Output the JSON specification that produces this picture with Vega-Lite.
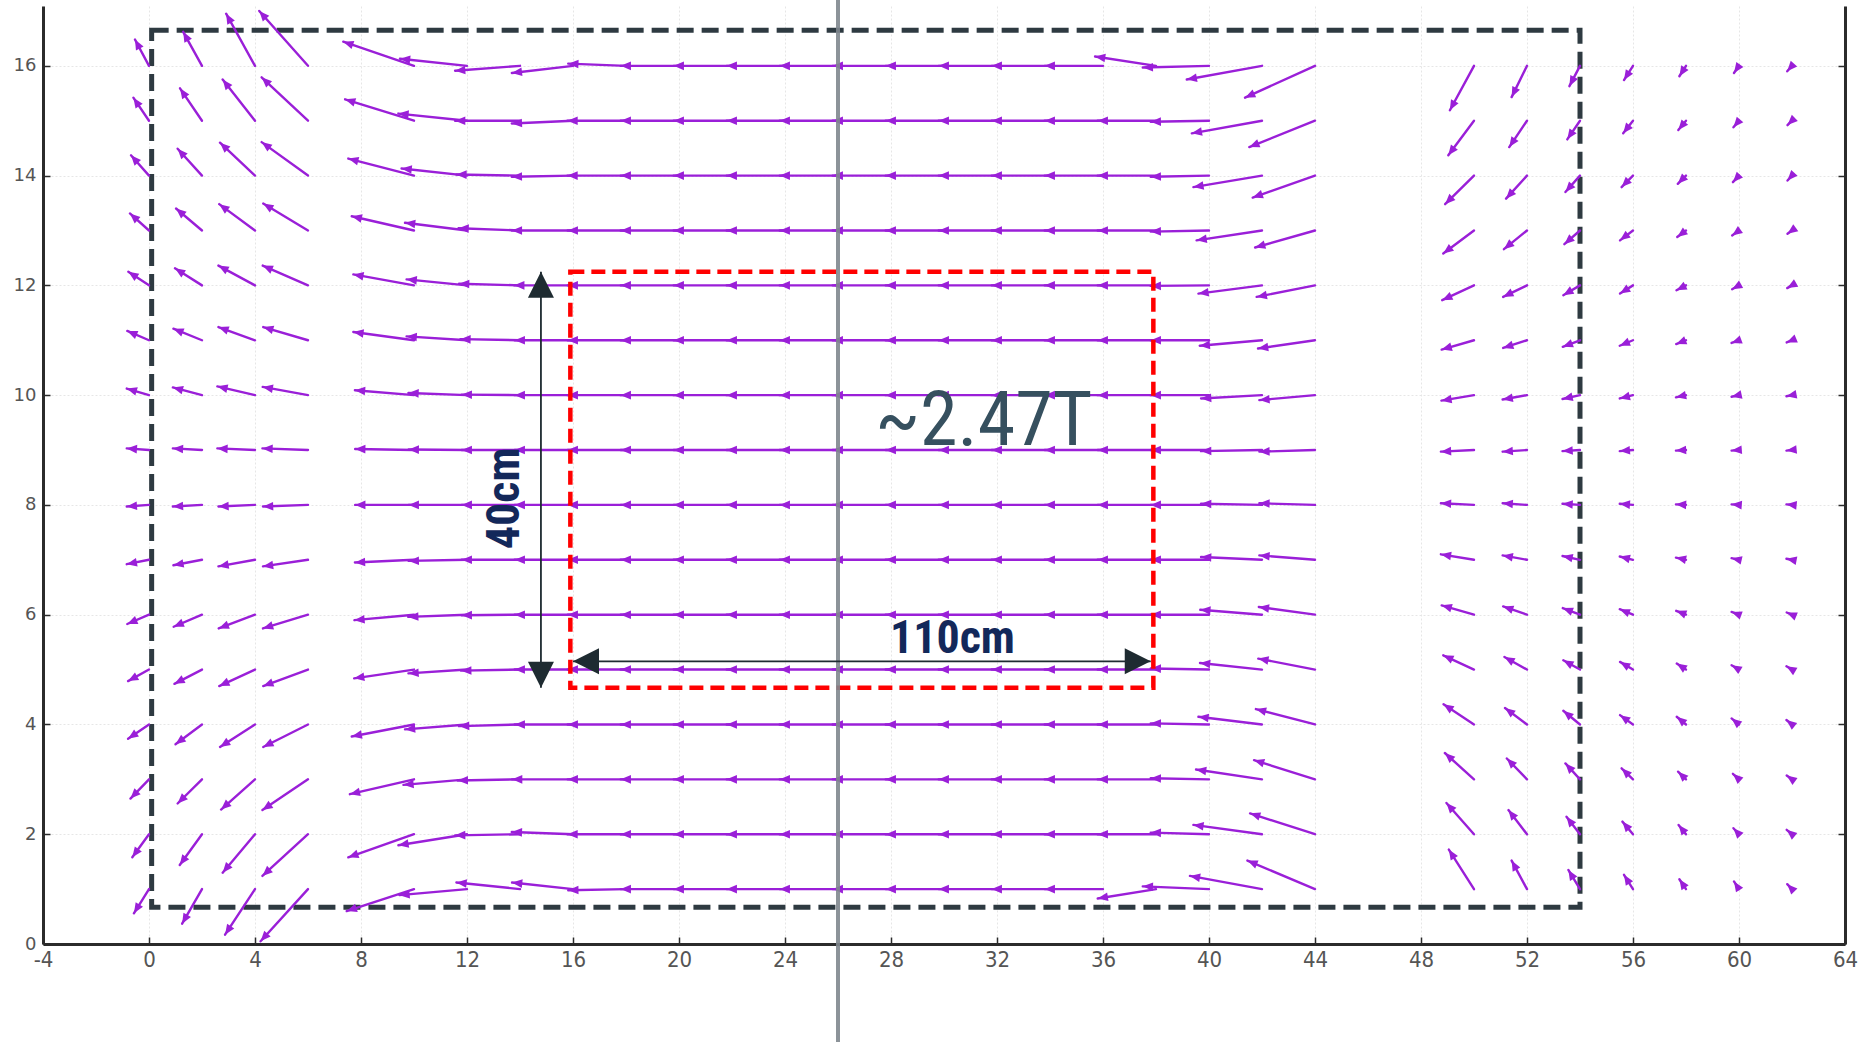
{
"$schema": "https://vega.github.io/schema/vega-lite/v6.json",
"width": 1802, "height": 938,
"autosize": {"type": "none"},
"padding": {"left": 43, "top": 6, "right": 23, "bottom": 98},
"background": "white",
"config": {"view": {"stroke": null}},
"datasets": {
"box": [{"x": 0.1, "x2": 54, "y": 0.67, "y2": 16.65}],
"red": [{"x": 15.9, "x2": 37.9, "y": 4.67, "y2": 12.25}],
"gline": [{"x": 26, "y": -1.8, "y2": 17.3}],
"dims": [{"x": 14.79, "x2": 14.79, "y": 4.67, "y2": 12.25}, {"x": 16.0, "x2": 37.8, "y": 5.15, "y2": 5.15}],
"dimheads": [{"x": 14.79, "y": 12.25, "a": 0}, {"x": 14.79, "y": 4.67, "a": 180}, {"x": 16.0, "y": 5.15, "a": 270}, {"x": 37.8, "y": 5.15, "a": 90}],
"t1": [{"label": "~2.47T", "x": 31.5, "y": 9.1}],
"t2": [{"label": "110cm", "x": 30.32, "y": 5.3}],
"t3": [{"label": "40cm", "x": 13.98, "y": 8.12}],
"q": [
{"x":0,"y":16,"u":-0.53,"v":0.48},{"x":2,"y":16,"u":-0.71,"v":0.62},{"x":4,"y":16,"u":-1.09,"v":0.95},{"x":6,"y":16,"u":-1.84,"v":1.0},
{"x":10,"y":16,"u":-2.67,"v":0.44},{"x":12,"y":16,"u":-2.53,"v":0.13},{"x":14,"y":16,"u":-2.45,"v":-0.09},{"x":16,"y":16,"u":-2.31,"v":-0.13},{"x":18,"y":16,"u":-2.18,"v":0.04},{"x":20,"y":16,"u":-2.2,"v":0},{"x":22,"y":16,"u":-2.2,"v":0},{"x":24,"y":16,"u":-2.2,"v":0},{"x":26,"y":16,"u":-2.2,"v":0},{"x":28,"y":16,"u":-2.2,"v":0},{"x":30,"y":16,"u":-2.2,"v":0},{"x":32,"y":16,"u":-2.2,"v":0},{"x":34,"y":16,"u":-2.2,"v":0},{"x":36,"y":16,"u":-2.2,"v":0},{"x":38,"y":16,"u":-2.3,"v":0.17},{"x":40,"y":16,"u":-2.5,"v":-0.03},
{"x":42,"y":16,"u":-2.84,"v":-0.25},{"x":44,"y":16,"u":-2.64,"v":-0.58},
{"x":50,"y":16,"u":-0.91,"v":-0.81},{"x":52,"y":16,"u":-0.58,"v":-0.57},{"x":54,"y":16,"u":-0.4,"v":-0.37},{"x":56,"y":16,"u":-0.34,"v":-0.26},{"x":58,"y":16,"u":-0.25,"v":-0.19},{"x":60,"y":16,"u":-0.19,"v":-0.13},{"x":62,"y":16,"u":-0.18,"v":-0.1},

{"x":0,"y":15,"u":-0.59,"v":0.42},{"x":2,"y":15,"u":-0.83,"v":0.59},{"x":4,"y":15,"u":-1.22,"v":0.75},{"x":6,"y":15,"u":-1.75,"v":0.79},
{"x":10,"y":15,"u":-2.6,"v":0.39},{"x":12,"y":15,"u":-2.59,"v":0.13},{"x":14,"y":15,"u":-2.45,"v":0.0},{"x":16,"y":15,"u":-2.31,"v":-0.05},{"x":18,"y":15,"u":-2.21,"v":0},{"x":20,"y":15,"u":-2.2,"v":0},{"x":22,"y":15,"u":-2.2,"v":0},{"x":24,"y":15,"u":-2.2,"v":0},{"x":26,"y":15,"u":-2.2,"v":0},{"x":28,"y":15,"u":-2.2,"v":0},{"x":30,"y":15,"u":-2.2,"v":0},{"x":32,"y":15,"u":-2.2,"v":0},{"x":34,"y":15,"u":-2.2,"v":0},{"x":36,"y":15,"u":-2.2,"v":0},{"x":38,"y":15,"u":-2.2,"v":0},{"x":40,"y":15,"u":-2.2,"v":-0.02},
{"x":42,"y":15,"u":-2.65,"v":-0.23},{"x":44,"y":15,"u":-2.48,"v":-0.48},
{"x":50,"y":15,"u":-0.97,"v":-0.63},{"x":52,"y":15,"u":-0.67,"v":-0.48},{"x":54,"y":15,"u":-0.48,"v":-0.34},{"x":56,"y":15,"u":-0.37,"v":-0.23},{"x":58,"y":15,"u":-0.29,"v":-0.17},{"x":60,"y":15,"u":-0.21,"v":-0.12},{"x":62,"y":15,"u":-0.17,"v":-0.08},

{"x":0,"y":14,"u":-0.68,"v":0.37},{"x":2,"y":14,"u":-0.92,"v":0.49},{"x":4,"y":14,"u":-1.32,"v":0.6},{"x":6,"y":14,"u":-1.75,"v":0.61},
{"x":10,"y":14,"u":-2.48,"v":0.31},{"x":12,"y":14,"u":-2.47,"v":0.13},{"x":14,"y":14,"u":-2.4,"v":0.02},{"x":16,"y":14,"u":-2.31,"v":-0.02},{"x":18,"y":14,"u":-2.21,"v":0},{"x":20,"y":14,"u":-2.2,"v":0},{"x":22,"y":14,"u":-2.2,"v":0},{"x":24,"y":14,"u":-2.2,"v":0},{"x":26,"y":14,"u":-2.2,"v":0},{"x":28,"y":14,"u":-2.2,"v":0},{"x":30,"y":14,"u":-2.2,"v":0},{"x":32,"y":14,"u":-2.2,"v":0},{"x":34,"y":14,"u":-2.2,"v":0},{"x":36,"y":14,"u":-2.2,"v":0},{"x":38,"y":14,"u":-2.2,"v":0},{"x":40,"y":14,"u":-2.2,"v":-0.02},
{"x":42,"y":14,"u":-2.59,"v":-0.21},{"x":44,"y":14,"u":-2.35,"v":-0.4},
{"x":50,"y":14,"u":-1.09,"v":-0.52},{"x":52,"y":14,"u":-0.79,"v":-0.42},{"x":54,"y":14,"u":-0.55,"v":-0.3},{"x":56,"y":14,"u":-0.43,"v":-0.21},{"x":58,"y":14,"u":-0.31,"v":-0.15},{"x":60,"y":14,"u":-0.23,"v":-0.12},{"x":62,"y":14,"u":-0.17,"v":-0.09},

{"x":0,"y":13,"u":-0.72,"v":0.31},{"x":2,"y":13,"u":-0.98,"v":0.4},{"x":4,"y":13,"u":-1.35,"v":0.48},{"x":6,"y":13,"u":-1.69,"v":0.49},
{"x":10,"y":13,"u":-2.35,"v":0.26},{"x":12,"y":13,"u":-2.34,"v":0.14},{"x":14,"y":13,"u":-2.32,"v":0.04},{"x":16,"y":13,"u":-2.31,"v":0},{"x":18,"y":13,"u":-2.2,"v":0},{"x":20,"y":13,"u":-2.2,"v":0},{"x":22,"y":13,"u":-2.2,"v":0},{"x":24,"y":13,"u":-2.2,"v":0},{"x":26,"y":13,"u":-2.2,"v":0},{"x":28,"y":13,"u":-2.2,"v":0},{"x":30,"y":13,"u":-2.2,"v":0},{"x":32,"y":13,"u":-2.2,"v":0},{"x":34,"y":13,"u":-2.2,"v":0},{"x":36,"y":13,"u":-2.2,"v":0},{"x":38,"y":13,"u":-2.2,"v":0},{"x":40,"y":13,"u":-2.2,"v":-0.02},
{"x":42,"y":13,"u":-2.47,"v":-0.18},{"x":44,"y":13,"u":-2.26,"v":-0.31},
{"x":50,"y":13,"u":-1.16,"v":-0.42},{"x":52,"y":13,"u":-0.87,"v":-0.34},{"x":54,"y":13,"u":-0.59,"v":-0.25},{"x":56,"y":13,"u":-0.49,"v":-0.18},{"x":58,"y":13,"u":-0.33,"v":-0.12},{"x":60,"y":13,"u":-0.26,"v":-0.09},{"x":62,"y":13,"u":-0.17,"v":-0.06},

{"x":0,"y":12,"u":-0.78,"v":0.25},{"x":2,"y":12,"u":-1.02,"v":0.31},{"x":4,"y":12,"u":-1.38,"v":0.36},{"x":6,"y":12,"u":-1.71,"v":0.36},
{"x":10,"y":12,"u":-2.29,"v":0.2},{"x":12,"y":12,"u":-2.28,"v":0.11},{"x":14,"y":12,"u":-2.3,"v":0.03},{"x":16,"y":12,"u":-2.22,"v":0},{"x":18,"y":12,"u":-2.2,"v":0},{"x":20,"y":12,"u":-2.2,"v":0},{"x":22,"y":12,"u":-2.2,"v":0},{"x":24,"y":12,"u":-2.2,"v":0},{"x":26,"y":12,"u":-2.2,"v":0},{"x":28,"y":12,"u":-2.2,"v":0},{"x":30,"y":12,"u":-2.2,"v":0},{"x":32,"y":12,"u":-2.2,"v":0},{"x":34,"y":12,"u":-2.2,"v":0},{"x":36,"y":12,"u":-2.2,"v":0},{"x":38,"y":12,"u":-2.2,"v":0},{"x":40,"y":12,"u":-2.2,"v":-0.01},
{"x":42,"y":12,"u":-2.4,"v":-0.15},{"x":44,"y":12,"u":-2.2,"v":-0.21},
{"x":50,"y":12,"u":-1.2,"v":-0.27},{"x":52,"y":12,"u":-0.9,"v":-0.21},{"x":54,"y":12,"u":-0.63,"v":-0.18},{"x":56,"y":12,"u":-0.49,"v":-0.15},{"x":58,"y":12,"u":-0.36,"v":-0.09},{"x":60,"y":12,"u":-0.26,"v":-0.07},{"x":62,"y":12,"u":-0.18,"v":-0.05},

{"x":0,"y":11,"u":-0.82,"v":0.17},{"x":2,"y":11,"u":-1.08,"v":0.21},{"x":4,"y":11,"u":-1.38,"v":0.24},{"x":6,"y":11,"u":-1.69,"v":0.24},
{"x":10,"y":11,"u":-2.29,"v":0.15},{"x":12,"y":11,"u":-2.28,"v":0.07},{"x":14,"y":11,"u":-2.25,"v":0.02},{"x":16,"y":11,"u":-2.2,"v":0},{"x":18,"y":11,"u":-2.2,"v":0},{"x":20,"y":11,"u":-2.2,"v":0},{"x":22,"y":11,"u":-2.2,"v":0},{"x":24,"y":11,"u":-2.2,"v":0},{"x":26,"y":11,"u":-2.2,"v":0},{"x":28,"y":11,"u":-2.2,"v":0},{"x":30,"y":11,"u":-2.2,"v":0},{"x":32,"y":11,"u":-2.2,"v":0},{"x":34,"y":11,"u":-2.2,"v":0},{"x":36,"y":11,"u":-2.2,"v":0},{"x":38,"y":11,"u":-2.2,"v":0},{"x":40,"y":11,"u":-2.2,"v":0},
{"x":42,"y":11,"u":-2.35,"v":-0.1},{"x":44,"y":11,"u":-2.15,"v":-0.15},
{"x":50,"y":11,"u":-1.22,"v":-0.17},{"x":52,"y":11,"u":-0.9,"v":-0.14},{"x":54,"y":11,"u":-0.65,"v":-0.12},{"x":56,"y":11,"u":-0.5,"v":-0.1},{"x":58,"y":11,"u":-0.37,"v":-0.07},{"x":60,"y":11,"u":-0.28,"v":-0.05},{"x":62,"y":11,"u":-0.2,"v":-0.04},

{"x":0,"y":10,"u":-0.84,"v":0.12},{"x":2,"y":10,"u":-1.1,"v":0.14},{"x":4,"y":10,"u":-1.42,"v":0.16},{"x":6,"y":10,"u":-1.71,"v":0.15},
{"x":10,"y":10,"u":-2.23,"v":0.09},{"x":12,"y":10,"u":-2.21,"v":0.04},{"x":14,"y":10,"u":-2.2,"v":0.01},{"x":16,"y":10,"u":-2.2,"v":0},{"x":18,"y":10,"u":-2.2,"v":0},{"x":20,"y":10,"u":-2.2,"v":0},{"x":22,"y":10,"u":-2.2,"v":0},{"x":24,"y":10,"u":-2.2,"v":0},{"x":26,"y":10,"u":-2.2,"v":0},{"x":28,"y":10,"u":-2.2,"v":0},{"x":30,"y":10,"u":-2.2,"v":0},{"x":32,"y":10,"u":-2.2,"v":0},{"x":34,"y":10,"u":-2.2,"v":0},{"x":36,"y":10,"u":-2.2,"v":0},{"x":38,"y":10,"u":-2.2,"v":0},{"x":40,"y":10,"u":-2.2,"v":0},
{"x":42,"y":10,"u":-2.3,"v":-0.06},{"x":44,"y":10,"u":-2.1,"v":-0.09},
{"x":50,"y":10,"u":-1.23,"v":-0.1},{"x":52,"y":10,"u":-0.92,"v":-0.08},{"x":54,"y":10,"u":-0.66,"v":-0.07},{"x":56,"y":10,"u":-0.5,"v":-0.06},{"x":58,"y":10,"u":-0.38,"v":-0.04},{"x":60,"y":10,"u":-0.28,"v":-0.03},{"x":62,"y":10,"u":-0.21,"v":-0.02},

{"x":0,"y":9,"u":-0.84,"v":0.03},{"x":2,"y":9,"u":-1.1,"v":0.03},{"x":4,"y":9,"u":-1.42,"v":0.03},{"x":6,"y":9,"u":-1.72,"v":0.03},
{"x":10,"y":9,"u":-2.22,"v":0.02},{"x":12,"y":9,"u":-2.2,"v":0.01},{"x":14,"y":9,"u":-2.2,"v":0},{"x":16,"y":9,"u":-2.2,"v":0},{"x":18,"y":9,"u":-2.2,"v":0},{"x":20,"y":9,"u":-2.2,"v":0},{"x":22,"y":9,"u":-2.2,"v":0},{"x":24,"y":9,"u":-2.2,"v":0},{"x":26,"y":9,"u":-2.2,"v":0},{"x":28,"y":9,"u":-2.2,"v":0},{"x":30,"y":9,"u":-2.2,"v":0},{"x":32,"y":9,"u":-2.2,"v":0},{"x":34,"y":9,"u":-2.2,"v":0},{"x":36,"y":9,"u":-2.2,"v":0},{"x":38,"y":9,"u":-2.2,"v":0},{"x":40,"y":9,"u":-2.2,"v":0},
{"x":42,"y":9,"u":-2.3,"v":-0.02},{"x":44,"y":9,"u":-2.1,"v":-0.03},
{"x":50,"y":9,"u":-1.25,"v":-0.03},{"x":52,"y":9,"u":-0.92,"v":-0.03},{"x":54,"y":9,"u":-0.66,"v":-0.02},{"x":56,"y":9,"u":-0.5,"v":-0.02},{"x":58,"y":9,"u":-0.38,"v":-0.01},{"x":60,"y":9,"u":-0.28,"v":-0.01},{"x":62,"y":9,"u":-0.21,"v":-0.01},

{"x":0,"y":8,"u":-0.84,"v":-0.03},{"x":2,"y":8,"u":-1.1,"v":-0.03},{"x":4,"y":8,"u":-1.38,"v":-0.03},{"x":6,"y":8,"u":-1.7,"v":-0.03},
{"x":10,"y":8,"u":-2.22,"v":0},{"x":12,"y":8,"u":-2.2,"v":0},{"x":14,"y":8,"u":-2.2,"v":0},{"x":16,"y":8,"u":-2.2,"v":0},{"x":18,"y":8,"u":-2.2,"v":0},{"x":20,"y":8,"u":-2.2,"v":0},{"x":22,"y":8,"u":-2.2,"v":0},{"x":24,"y":8,"u":-2.2,"v":0},{"x":26,"y":8,"u":-2.2,"v":0},{"x":28,"y":8,"u":-2.2,"v":0},{"x":30,"y":8,"u":-2.2,"v":0},{"x":32,"y":8,"u":-2.2,"v":0},{"x":34,"y":8,"u":-2.2,"v":0},{"x":36,"y":8,"u":-2.2,"v":0},{"x":38,"y":8,"u":-2.2,"v":0},{"x":40,"y":8,"u":-2.2,"v":0},
{"x":42,"y":8,"u":-2.3,"v":0.02},{"x":44,"y":8,"u":-2.1,"v":0.03},
{"x":50,"y":8,"u":-1.25,"v":0.03},{"x":52,"y":8,"u":-0.92,"v":0.03},{"x":54,"y":8,"u":-0.66,"v":0.02},{"x":56,"y":8,"u":-0.5,"v":0.02},{"x":58,"y":8,"u":-0.38,"v":0.01},{"x":60,"y":8,"u":-0.28,"v":0.01},{"x":62,"y":8,"u":-0.21,"v":0.01},

{"x":0,"y":7,"u":-0.84,"v":-0.08},{"x":2,"y":7,"u":-1.08,"v":-0.1},{"x":4,"y":7,"u":-1.38,"v":-0.12},{"x":6,"y":7,"u":-1.7,"v":-0.12},
{"x":10,"y":7,"u":-2.23,"v":-0.05},{"x":12,"y":7,"u":-2.2,"v":-0.02},{"x":14,"y":7,"u":-2.2,"v":0},{"x":16,"y":7,"u":-2.2,"v":0},{"x":18,"y":7,"u":-2.2,"v":0},{"x":20,"y":7,"u":-2.2,"v":0},{"x":22,"y":7,"u":-2.2,"v":0},{"x":24,"y":7,"u":-2.2,"v":0},{"x":26,"y":7,"u":-2.2,"v":0},{"x":28,"y":7,"u":-2.2,"v":0},{"x":30,"y":7,"u":-2.2,"v":0},{"x":32,"y":7,"u":-2.2,"v":0},{"x":34,"y":7,"u":-2.2,"v":0},{"x":36,"y":7,"u":-2.2,"v":0},{"x":38,"y":7,"u":-2.2,"v":0},{"x":40,"y":7,"u":-2.2,"v":0},
{"x":42,"y":7,"u":-2.3,"v":0.05},{"x":44,"y":7,"u":-2.1,"v":0.08},
{"x":50,"y":7,"u":-1.25,"v":0.1},{"x":52,"y":7,"u":-0.92,"v":0.08},{"x":54,"y":7,"u":-0.66,"v":0.07},{"x":56,"y":7,"u":-0.5,"v":0.06},{"x":58,"y":7,"u":-0.38,"v":0.04},{"x":60,"y":7,"u":-0.28,"v":0.03},{"x":62,"y":7,"u":-0.21,"v":0.02},

{"x":0,"y":6,"u":-0.82,"v":-0.17},{"x":2,"y":6,"u":-1.07,"v":-0.22},{"x":4,"y":6,"u":-1.37,"v":-0.25},{"x":6,"y":6,"u":-1.7,"v":-0.25},
{"x":10,"y":6,"u":-2.25,"v":-0.1},{"x":12,"y":6,"u":-2.22,"v":-0.04},{"x":14,"y":6,"u":-2.2,"v":-0.01},{"x":16,"y":6,"u":-2.2,"v":0},{"x":18,"y":6,"u":-2.2,"v":0},{"x":20,"y":6,"u":-2.2,"v":0},{"x":22,"y":6,"u":-2.2,"v":0},{"x":24,"y":6,"u":-2.2,"v":0},{"x":26,"y":6,"u":-2.2,"v":0},{"x":28,"y":6,"u":-2.2,"v":0},{"x":30,"y":6,"u":-2.2,"v":0},{"x":32,"y":6,"u":-2.2,"v":0},{"x":34,"y":6,"u":-2.2,"v":0},{"x":36,"y":6,"u":-2.2,"v":0},{"x":38,"y":6,"u":-2.2,"v":0},{"x":40,"y":6,"u":-2.2,"v":0},
{"x":42,"y":6,"u":-2.33,"v":0.09},{"x":44,"y":6,"u":-2.12,"v":0.14},
{"x":50,"y":6,"u":-1.22,"v":0.17},{"x":52,"y":6,"u":-0.9,"v":0.15},{"x":54,"y":6,"u":-0.65,"v":0.12},{"x":56,"y":6,"u":-0.5,"v":0.1},{"x":58,"y":6,"u":-0.37,"v":0.07},{"x":60,"y":6,"u":-0.28,"v":0.05},{"x":62,"y":6,"u":-0.2,"v":0.04},

{"x":0,"y":5,"u":-0.79,"v":-0.21},{"x":2,"y":5,"u":-1.04,"v":-0.26},{"x":4,"y":5,"u":-1.35,"v":-0.3},{"x":6,"y":5,"u":-1.69,"v":-0.3},
{"x":10,"y":5,"u":-2.26,"v":-0.16},{"x":12,"y":5,"u":-2.21,"v":-0.07},{"x":14,"y":5,"u":-2.22,"v":-0.02},{"x":16,"y":5,"u":-2.2,"v":0},{"x":18,"y":5,"u":-2.2,"v":0},{"x":20,"y":5,"u":-2.2,"v":0},{"x":22,"y":5,"u":-2.2,"v":0},{"x":24,"y":5,"u":-2.2,"v":0},{"x":26,"y":5,"u":-2.2,"v":0},{"x":28,"y":5,"u":-2.2,"v":0},{"x":30,"y":5,"u":-2.2,"v":0},{"x":32,"y":5,"u":-2.2,"v":0},{"x":34,"y":5,"u":-2.2,"v":0},{"x":36,"y":5,"u":-2.2,"v":0},{"x":38,"y":5,"u":-2.2,"v":0},{"x":40,"y":5,"u":-2.2,"v":0.02},
{"x":42,"y":5,"u":-2.34,"v":0.12},{"x":44,"y":5,"u":-2.14,"v":0.2},
{"x":50,"y":5,"u":-1.16,"v":0.26},{"x":52,"y":5,"u":-0.85,"v":0.23},{"x":54,"y":5,"u":-0.63,"v":0.17},{"x":56,"y":5,"u":-0.49,"v":0.14},{"x":58,"y":5,"u":-0.35,"v":0.11},{"x":60,"y":5,"u":-0.28,"v":0.08},{"x":62,"y":5,"u":-0.21,"v":0.06},

{"x":0,"y":4,"u":-0.79,"v":-0.26},{"x":2,"y":4,"u":-1.0,"v":-0.36},{"x":4,"y":4,"u":-1.32,"v":-0.41},{"x":6,"y":4,"u":-1.69,"v":-0.41},
{"x":10,"y":4,"u":-2.35,"v":-0.22},{"x":12,"y":4,"u":-2.34,"v":-0.09},{"x":14,"y":4,"u":-2.3,"v":-0.03},{"x":16,"y":4,"u":-2.2,"v":0},{"x":18,"y":4,"u":-2.2,"v":0},{"x":20,"y":4,"u":-2.2,"v":0},{"x":22,"y":4,"u":-2.2,"v":0},{"x":24,"y":4,"u":-2.2,"v":0},{"x":26,"y":4,"u":-2.2,"v":0},{"x":28,"y":4,"u":-2.2,"v":0},{"x":30,"y":4,"u":-2.2,"v":0},{"x":32,"y":4,"u":-2.2,"v":0},{"x":34,"y":4,"u":-2.2,"v":0},{"x":36,"y":4,"u":-2.2,"v":0},{"x":38,"y":4,"u":-2.2,"v":0},{"x":40,"y":4,"u":-2.2,"v":0.02},
{"x":42,"y":4,"u":-2.4,"v":0.14},{"x":44,"y":4,"u":-2.23,"v":0.28},
{"x":50,"y":4,"u":-1.15,"v":0.37},{"x":52,"y":4,"u":-0.83,"v":0.3},{"x":54,"y":4,"u":-0.63,"v":0.25},{"x":56,"y":4,"u":-0.49,"v":0.17},{"x":58,"y":4,"u":-0.35,"v":0.14},{"x":60,"y":4,"u":-0.28,"v":0.11},{"x":62,"y":4,"u":-0.21,"v":0.08},

{"x":0,"y":3,"u":-0.7,"v":-0.35},{"x":2,"y":3,"u":-0.92,"v":-0.44},{"x":4,"y":3,"u":-1.28,"v":-0.55},{"x":6,"y":3,"u":-1.72,"v":-0.56},
{"x":10,"y":3,"u":-2.42,"v":-0.27},{"x":12,"y":3,"u":-2.4,"v":-0.1},{"x":14,"y":3,"u":-2.35,"v":-0.02},{"x":16,"y":3,"u":-2.3,"v":0},{"x":18,"y":3,"u":-2.2,"v":0},{"x":20,"y":3,"u":-2.2,"v":0},{"x":22,"y":3,"u":-2.2,"v":0},{"x":24,"y":3,"u":-2.2,"v":0},{"x":26,"y":3,"u":-2.2,"v":0},{"x":28,"y":3,"u":-2.2,"v":0},{"x":30,"y":3,"u":-2.2,"v":0},{"x":32,"y":3,"u":-2.2,"v":0},{"x":34,"y":3,"u":-2.2,"v":0},{"x":36,"y":3,"u":-2.2,"v":0},{"x":38,"y":3,"u":-2.2,"v":0},{"x":40,"y":3,"u":-2.2,"v":0.02},
{"x":42,"y":3,"u":-2.49,"v":0.18},{"x":44,"y":3,"u":-2.3,"v":0.35},
{"x":50,"y":3,"u":-1.1,"v":0.48},{"x":52,"y":3,"u":-0.76,"v":0.38},{"x":54,"y":3,"u":-0.55,"v":0.29},{"x":56,"y":3,"u":-0.43,"v":0.2},{"x":58,"y":3,"u":-0.3,"v":0.14},{"x":60,"y":3,"u":-0.23,"v":0.1},{"x":62,"y":3,"u":-0.2,"v":0.07},

{"x":0,"y":2,"u":-0.63,"v":-0.42},{"x":2,"y":2,"u":-0.84,"v":-0.56},{"x":4,"y":2,"u":-1.22,"v":-0.7},{"x":6,"y":2,"u":-1.72,"v":-0.76},
{"x":10,"y":2,"u":-2.48,"v":-0.42},{"x":12,"y":2,"u":-2.59,"v":-0.2},{"x":14,"y":2,"u":-2.45,"v":-0.02},{"x":16,"y":2,"u":-2.31,"v":0.04},{"x":18,"y":2,"u":-2.21,"v":0},{"x":20,"y":2,"u":-2.2,"v":0},{"x":22,"y":2,"u":-2.2,"v":0},{"x":24,"y":2,"u":-2.2,"v":0},{"x":26,"y":2,"u":-2.2,"v":0},{"x":28,"y":2,"u":-2.2,"v":0},{"x":30,"y":2,"u":-2.2,"v":0},{"x":32,"y":2,"u":-2.2,"v":0},{"x":34,"y":2,"u":-2.2,"v":0},{"x":36,"y":2,"u":-2.2,"v":0},{"x":38,"y":2,"u":-2.2,"v":0},{"x":40,"y":2,"u":-2.2,"v":0.03},
{"x":42,"y":2,"u":-2.59,"v":0.17},{"x":44,"y":2,"u":-2.45,"v":0.38},
{"x":50,"y":2,"u":-1.04,"v":0.57},{"x":52,"y":2,"u":-0.7,"v":0.44},{"x":54,"y":2,"u":-0.51,"v":0.32},{"x":56,"y":2,"u":-0.4,"v":0.23},{"x":58,"y":2,"u":-0.28,"v":0.17},{"x":60,"y":2,"u":-0.21,"v":0.11},{"x":62,"y":2,"u":-0.2,"v":0.08},

{"x":0,"y":1,"u":-0.57,"v":-0.44},{"x":2,"y":1,"u":-0.75,"v":-0.63},{"x":4,"y":1,"u":-1.13,"v":-0.83},{"x":6,"y":1,"u":-1.79,"v":-0.95},
{"x":10,"y":1,"u":-2.54,"v":-0.4},{"x":12,"y":1,"u":-2.55,"v":-0.11},{"x":14,"y":1,"u":-2.4,"v":0.12},{"x":16,"y":1,"u":-2.3,"v":0.12},{"x":18,"y":1,"u":-2.18,"v":-0.02},{"x":20,"y":1,"u":-2.2,"v":0},{"x":22,"y":1,"u":-2.2,"v":0},{"x":24,"y":1,"u":-2.2,"v":0},{"x":26,"y":1,"u":-2.2,"v":0},{"x":28,"y":1,"u":-2.2,"v":0},{"x":30,"y":1,"u":-2.2,"v":0},{"x":32,"y":1,"u":-2.2,"v":0},{"x":34,"y":1,"u":-2.2,"v":0},{"x":36,"y":1,"u":-2.2,"v":0},{"x":38,"y":1,"u":-2.2,"v":-0.17},{"x":40,"y":1,"u":-2.5,"v":0.05},
{"x":42,"y":1,"u":-2.72,"v":0.24},{"x":44,"y":1,"u":-2.55,"v":0.52},
{"x":50,"y":1,"u":-0.95,"v":0.72},{"x":52,"y":1,"u":-0.58,"v":0.52},{"x":54,"y":1,"u":-0.44,"v":0.35},{"x":56,"y":1,"u":-0.34,"v":0.26},{"x":58,"y":1,"u":-0.25,"v":0.18},{"x":60,"y":1,"u":-0.19,"v":0.14},{"x":62,"y":1,"u":-0.18,"v":0.09}
]
},
"layer": [
{
"data": {"name": "box"},
"mark": {"type": "rect", "filled": false, "stroke": "#2e3a41", "strokeWidth": 5, "strokeDash": [17, 8]},
"encoding": {
"x": {"field": "x", "type": "quantitative", "title": null, "scale": {"domain": [-4, 64], "nice": false, "zero": false},
"axis": {"title": null, "values": [-4,0,4,8,12,16,20,24,28,32,36,40,44,48,52,56,60,64], "labelExpr": "replace(datum.label, '−', '-')", "grid": true, "gridColor": "#e6e6e6", "gridDash": [2, 2], "gridWidth": 1, "domainColor": "#2b2b2b", "domainWidth": 3, "tickColor": "#2b2b2b", "tickWidth": 1.5, "tickSize": -7, "labelPadding": 12, "labelFont": "DejaVu Sans Condensed, Liberation Sans Narrow, Roboto Condensed, DejaVu Sans", "labelFontSize": 22, "labelColor": "#555555", "labelFlush": false, "labelOverlap": false}},
"x2": {"field": "x2"},
"y": {"field": "y", "type": "quantitative", "title": null, "scale": {"domain": [0, 17.09], "nice": false, "zero": false},
"axis": {"title": null, "orient": "left", "values": [0,2,4,6,8,10,12,14,16], "grid": true, "gridColor": "#e6e6e6", "gridDash": [2, 2], "gridWidth": 1, "domainColor": "#2b2b2b", "domainWidth": 3, "tickColor": "#2b2b2b", "tickWidth": 1.5, "tickSize": -7, "labelPadding": 14, "labelFont": "DejaVu Sans", "labelFontSize": 18, "labelColor": "#555555", "labelFlush": false, "labelOverlap": false}},
"y2": {"field": "y2"}
}
},
{
"data": {"name": "q"},
"transform": [
{"calculate": "datum.x + datum.u", "as": "hx"},
{"calculate": "datum.y + datum.v", "as": "hy"}
],
"mark": {"type": "rule", "color": "#9a1fd8", "strokeWidth": 2.4, "strokeCap": "round"},
"encoding": {
"x": {"field": "x", "type": "quantitative", "title": null, "axis": {"title": null}},
"y": {"field": "y", "type": "quantitative", "title": null, "axis": {"title": null, "orient": "right", "values": [0,2,4,6,8,10,12,14,16], "labels": false, "grid": false, "domainColor": "#2b2b2b", "domainWidth": 3, "tickColor": "#2b2b2b", "tickWidth": 1.5, "tickSize": -7}},
"x2": {"field": "hx"},
"y2": {"field": "hy"}
}
},
{
"data": {"name": "q"},
"transform": [
{"calculate": "datum.x + datum.u", "as": "hx"},
{"calculate": "datum.y + datum.v", "as": "hy"},
{"calculate": "atan2(datum.u * 26.5, datum.v * 54.9) * 180 / PI", "as": "ang"}
],
"mark": {"type": "point", "shape": "M0,0L0.42,1L-0.42,1Z", "filled": true, "color": "#9a1fd8", "opacity": 1, "size": 420, "strokeWidth": 0},
"encoding": {
"x": {"field": "hx", "type": "quantitative", "title": null, "axis": {"title": null}},
"y": {"field": "hy", "type": "quantitative", "title": null, "axis": null},
"angle": {"field": "ang", "type": "quantitative", "scale": null}
}
},
{
"data": {"name": "red"},
"mark": {"type": "rect", "filled": false, "stroke": "#ff0000", "strokeWidth": 4.5, "strokeDash": [14, 7]},
"encoding": {
"x": {"field": "x", "type": "quantitative", "title": null, "axis": {"title": null}}, "x2": {"field": "x2"},
"y": {"field": "y", "type": "quantitative", "title": null, "axis": null}, "y2": {"field": "y2"}
}
},
{
"data": {"name": "gline"},
"mark": {"type": "rule", "color": "#7f878e", "strokeWidth": 4, "opacity": 0.9},
"encoding": {
"x": {"field": "x", "type": "quantitative", "title": null, "axis": {"title": null}},
"y": {"field": "y", "type": "quantitative", "title": null, "axis": null}, "y2": {"field": "y2"}
}
},
{
"data": {"name": "dims"},
"mark": {"type": "rule", "color": "#1e2b31", "strokeWidth": 1.8},
"encoding": {
"x": {"field": "x", "type": "quantitative", "title": null, "axis": {"title": null}}, "x2": {"field": "x2"},
"y": {"field": "y", "type": "quantitative", "title": null, "axis": null}, "y2": {"field": "y2"}
}
},
{
"data": {"name": "dimheads"},
"mark": {"type": "point", "shape": "M0,0L0.5,1L-0.5,1Z", "filled": true, "color": "#1e2b31", "opacity": 1, "size": 2700, "strokeWidth": 0},
"encoding": {
"x": {"field": "x", "type": "quantitative", "title": null, "axis": {"title": null}},
"y": {"field": "y", "type": "quantitative", "title": null, "axis": null},
"angle": {"field": "a", "type": "quantitative", "scale": null}
}
},
{
"data": {"name": "t1"},
"mark": {"type": "text", "font": "Liberation Sans Narrow, Roboto Condensed, DejaVu Sans Condensed, Liberation Sans, sans-serif", "fontSize": 76, "color": "#36505f", "align": "center", "baseline": "alphabetic"},
"encoding": {
"x": {"field": "x", "type": "quantitative", "title": null, "axis": {"title": null}},
"y": {"field": "y", "type": "quantitative", "title": null, "axis": null},
"text": {"field": "label"}
}
},
{
"data": {"name": "t2"},
"mark": {"type": "text", "font": "Liberation Sans Narrow, Roboto Condensed, DejaVu Sans Condensed, Liberation Sans, sans-serif", "fontSize": 46, "fontWeight": "bold", "color": "#13285a", "align": "center", "baseline": "alphabetic"},
"encoding": {
"x": {"field": "x", "type": "quantitative", "title": null, "axis": {"title": null}},
"y": {"field": "y", "type": "quantitative", "title": null, "axis": null},
"text": {"field": "label"}
}
},
{
"data": {"name": "t3"},
"mark": {"type": "text", "font": "Liberation Sans Narrow, Roboto Condensed, DejaVu Sans Condensed, Liberation Sans, sans-serif", "fontSize": 46, "fontWeight": "bold", "color": "#13285a", "align": "center", "baseline": "alphabetic", "angle": 270},
"encoding": {
"x": {"field": "x", "type": "quantitative", "title": null, "axis": {"title": null}},
"y": {"field": "y", "type": "quantitative", "title": null, "axis": null},
"text": {"field": "label"}
}
}
],
"resolve": {"axis": {"y": "independent"}}
}
